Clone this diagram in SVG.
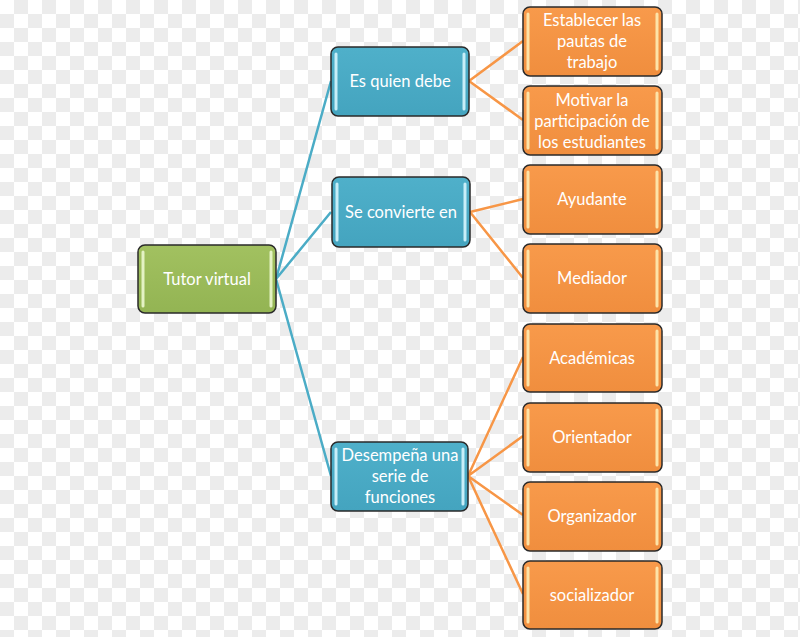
<svg xmlns="http://www.w3.org/2000/svg" width="800" height="637" viewBox="0 0 800 637">
<defs>
<pattern id="chk" x="0" y="0" width="28" height="28" patternUnits="userSpaceOnUse">
<rect width="28" height="28" fill="#ffffff"/>
<rect x="14" y="0" width="14" height="14" fill="#ececec"/>
<rect x="0" y="14" width="14" height="14" fill="#ececec"/>
</pattern>
<linearGradient id="gG" x1="0" y1="0" x2="0" y2="1"><stop offset="0" stop-color="#a2c160"/><stop offset="1" stop-color="#93b453"/></linearGradient>
<linearGradient id="gB" x1="0" y1="0" x2="0" y2="1"><stop offset="0" stop-color="#4fb0ca"/><stop offset="1" stop-color="#44a4bf"/></linearGradient>
<linearGradient id="gO" x1="0" y1="0" x2="0" y2="1"><stop offset="0" stop-color="#f89a4b"/><stop offset="1" stop-color="#f08e3e"/></linearGradient>
</defs>
<style>
.box{stroke:#2a2a2a;stroke-width:1.5}
.g{fill:url(#gG)} .b{fill:url(#gB)} .o{fill:url(#gO)}
.hg{stroke:#e4f2c4;stroke-width:3;stroke-linecap:round}
.hb{stroke:#c8eef8;stroke-width:3;stroke-linecap:round}
.ho{stroke:#fde3a8;stroke-width:3;stroke-linecap:round}
text{font-family:Lato,"Open Sans","Liberation Sans",sans-serif;font-size:16.5px;fill:#ffffff;text-anchor:middle;dominant-baseline:central}
.cb{stroke:#4bacc6;stroke-width:2.5;fill:none}
.co{stroke:#f79646;stroke-width:2.5;fill:none}
</style>
<rect width="800" height="637" fill="url(#chk)"/>
<g id="connectors">
<path class="cb" d="M276 279 L331 81 M276 279 L331 212 M276 279 L331 476"/>
<path class="co" d="M469 81 L523 41 M469 81 L523 120"/>
<path class="co" d="M470 212 L523 199 M470 212 L523 278"/>
<path class="co" d="M468 476 L523 357 M468 476 L523 436 M468 476 L523 515 M468 476 L523 594"/>
</g>
<g id="tutor">
<rect class="box g" x="138" y="245" width="138" height="68" rx="7"/>
<path class="hg" d="M143 252 V306 M271 252 V306"/>
<text x="207" y="279">Tutor virtual</text>
</g>
<g id="es-quien-debe">
<rect class="box b" x="331" y="47" width="138" height="69" rx="7"/>
<path class="hb" d="M336 54 V109 M464 54 V109"/>
<text x="400" y="81">Es quien debe</text>
</g>
<g id="se-convierte-en">
<rect class="box b" x="332" y="177" width="138" height="70" rx="7"/>
<path class="hb" d="M337 184 V240 M465 184 V240"/>
<text x="401" y="212">Se convierte  en</text>
</g>
<g id="desempena">
<rect class="box b" x="331" y="442" width="137" height="69" rx="7"/>
<path class="hb" d="M336 449 V504 M463 449 V504"/>
<text x="400" y="455">Desempeña una</text>
<text x="400" y="476">serie de</text>
<text x="400" y="497">funciones</text>
</g>
<g id="establecer">
<rect class="box o" x="523" y="7" width="139" height="69" rx="7"/>
<path class="ho" d="M528 14 V69 M657 14 V69"/>
<text x="592" y="20">Establecer las</text>
<text x="592" y="41">pautas de</text>
<text x="592" y="62">trabajo</text>
</g>
<g id="motivar">
<rect class="box o" x="523" y="86" width="139" height="69" rx="7"/>
<path class="ho" d="M528 93 V148 M657 93 V148"/>
<text x="592" y="100">Motivar la</text>
<text x="592" y="121">participación de</text>
<text x="592" y="142">los estudiantes</text>
</g>
<g id="ayudante">
<rect class="box o" x="523" y="165" width="139" height="69" rx="7"/>
<path class="ho" d="M528 172 V227 M657 172 V227"/>
<text x="592" y="199">Ayudante</text>
</g>
<g id="mediador">
<rect class="box o" x="523" y="244" width="139" height="69" rx="7"/>
<path class="ho" d="M528 251 V306 M657 251 V306"/>
<text x="592" y="278">Mediador</text>
</g>
<g id="academicas">
<rect class="box o" x="523" y="324" width="139" height="68" rx="7"/>
<path class="ho" d="M528 331 V385 M657 331 V385"/>
<text x="592" y="358">Académicas</text>
</g>
<g id="orientador">
<rect class="box o" x="523" y="403" width="139" height="69" rx="7"/>
<path class="ho" d="M528 410 V465 M657 410 V465"/>
<text x="592" y="437">Orientador</text>
</g>
<g id="organizador">
<rect class="box o" x="523" y="482" width="139" height="69" rx="7"/>
<path class="ho" d="M528 489 V544 M657 489 V544"/>
<text x="592" y="516">Organizador</text>
</g>
<g id="socializador">
<rect class="box o" x="523" y="561" width="139" height="68" rx="7"/>
<path class="ho" d="M528 568 V622 M657 568 V622"/>
<text x="592" y="595">socializador</text>
</g>
</svg>
